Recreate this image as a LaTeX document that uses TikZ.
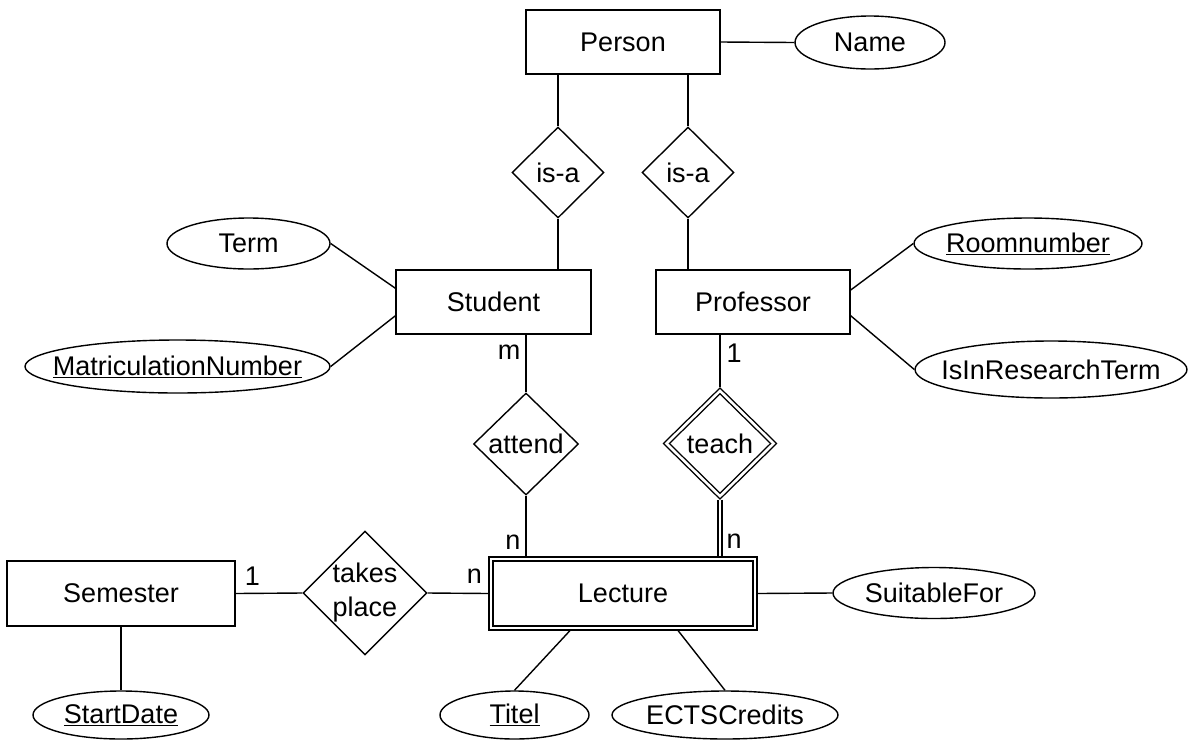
\documentclass[tikz,border=0pt]{standalone}
\usepackage{fontspec}
\setmainfont{Liberation Sans}
\usetikzlibrary{shapes.geometric}

\begin{document}
\begin{tikzpicture}[x=1pt, y=-1pt, line width=1.4pt,
  font=\fontsize{27pt}{34pt}\selectfont,
  entity/.style={draw, rectangle, inner sep=0pt, minimum width=#1, minimum height=64pt},
  weakentity/.style={draw, rectangle, double, double distance=2.6pt, outer sep=2.7pt, inner sep=0pt},
  attr/.style={draw, ellipse, inner xsep=-40pt, inner ysep=0pt},
  rel/.style={draw, diamond, shape aspect=1, inner sep=0pt},
  weakrel/.style={rel, double, double distance=2.6pt, outer sep=2.5pt},
  idlink/.style={double, double distance=2.6pt},
  cardl/.style={anchor=east, inner sep=0pt, xshift=-5pt},
  cardr/.style={anchor=west, inner sep=0pt, xshift=6pt},
  cardt/.style={anchor=south, inner sep=0pt}]

\path[fill=white] (0,0) rectangle (1189,740);
\useasboundingbox (0,0) rectangle (1189,740);

% entities
\node[entity=194pt] (person) at (623,42) {Person};
\node[entity=195pt] (student) at (493.5,302) {Student};
\node[entity=194pt] (professor) at (753,302) {Professor};
\node[entity=228pt, minimum height=65pt] (semester) at (121,593.5) {Semester};
\node[weakentity, minimum width=264pt, minimum height=69pt] (lecture) at (623,593.5) {Lecture};

% relationships
\node[rel, minimum width=92pt, minimum height=91pt] (isaS) at (558,172.5) {is-a};
\node[rel, minimum width=92pt, minimum height=91pt] (isaP) at (688,172.5) {is-a};
\node[rel, minimum width=105pt, minimum height=102pt] (attend) at (526,444) {attend};
\node[weakrel, minimum width=109.3pt, minimum height=107.3pt] (teach) at (720,443.5) {teach};
\node[rel, align=center, minimum width=124pt, minimum height=122pt] (takes) at (365,593) {takes\\place};

% attributes
\node[attr, minimum width=150pt, minimum height=53pt] (name) at (870,42.5) {Name};
\node[attr, minimum width=163pt, minimum height=51pt] (term) at (248.5,243.5) {Term};
\node[attr, minimum width=305pt, minimum height=53pt] (matnr) at (177.5,366.5) {\underline{MatriculationNumber}};
\node[attr, minimum width=228pt, minimum height=51pt] (room) at (1028,243.5) {\underline{Roomnumber}};
\node[attr, minimum width=272pt, minimum height=57pt] (research) at (1051,369.5) {IsInResearchTerm};
\node[attr, minimum width=202pt, minimum height=51pt] (suitable) at (934,593) {SuitableFor};
\node[attr, minimum width=176pt, minimum height=48pt] (start) at (121,715) {\underline{StartDate}};
\node[attr, minimum width=149pt, minimum height=48pt] (titel) at (514.5,715) {\underline{Titel}};
\node[attr, minimum width=226pt, minimum height=48pt] (ects) at (725,715) {ECTSCredits};

% attribute links
\draw (person.east) -- (name.west);
\draw (term.east) -- (student.172);
\draw (matnr.east) -- (student.188);
\draw (professor.7.6) -- (room.west);
\draw (professor.352) -- (research.west);
\draw (lecture.east) -- (suitable.west);
\draw (semester.south) -- (start.north);
\draw (lecture.215.6) -- (titel.north);
\draw (lecture.326.4) -- (ects.north);

% generalisation
\draw (isaS.north |- person.south) -- (isaS.north);
\draw (isaS.south) -- (isaS.south |- student.north);
\draw (isaP.north |- person.south) -- (isaP.north);
\draw (isaP.south) -- (isaP.south |- professor.north);

% relationship links with cardinalities
\draw (attend.north |- student.south) -- node[pos=0.3, cardl] {m} (attend.north);
\draw (attend.south) -- node[pos=0.76, cardl] {n} (attend.south |- lecture.north);
\draw (teach.north |- professor.south) -- node[pos=0.36, cardr] {1} (teach.north);
\draw[idlink] (teach.south) -- node[pos=0.74, cardr] {n} (teach.south |- lecture.north);
\draw (semester.east) -- node[pos=0.25, cardt, yshift=7pt] {1} (takes.west);
\draw (takes.east) -- node[pos=0.77, cardt, yshift=9pt] {n} (lecture.west);

\end{tikzpicture}
\end{document}
